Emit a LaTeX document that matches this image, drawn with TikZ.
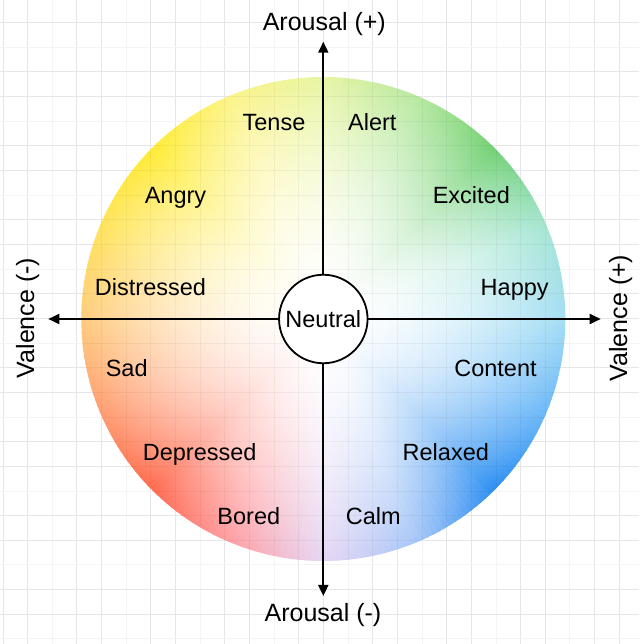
\documentclass[tikz,border=0pt]{standalone}
\usepackage{fontspec}
\setmainfont{Liberation Sans}
\usetikzlibrary{arrows.meta,fadings}
\definecolor{c0}{HTML}{A4DEF4}
\definecolor{c1}{HTML}{A6E6D4}
\definecolor{c2}{HTML}{72D174}
\definecolor{c3}{HTML}{B8E9A2}
\definecolor{c4}{HTML}{E8F5A4}
\definecolor{c5}{HTML}{FCF48A}
\definecolor{c6}{HTML}{FFEC34}
\definecolor{c7}{HTML}{FFE45C}
\definecolor{c8}{HTML}{FFCC7E}
\definecolor{c9}{HTML}{FF9E72}
\definecolor{c10}{HTML}{FF6A4E}
\definecolor{c11}{HTML}{FF9EA4}
\definecolor{c12}{HTML}{E6D6F4}
\definecolor{c13}{HTML}{A8C8F8}
\definecolor{c14}{HTML}{2A8EF2}
\definecolor{c15}{HTML}{6CB8F8}
\definecolor{gridc}{HTML}{E6E6E6}
\definecolor{gridf}{HTML}{F4F4F4}
\pgfdeclareradialshading{wfadeshade}{\pgfpointorigin}{color(0bp)=(white); color(2.5bp)=(black!1.6); color(5bp)=(black!5.5); color(7.5bp)=(black!11.5); color(10bp)=(black!19.2); color(12.5bp)=(black!28.7); color(15bp)=(black!39.9); color(17.5bp)=(black!52.6); color(20bp)=(black!66.9); color(22.5bp)=(black!82.7); color(25bp)=(black); color(50bp)=(black)}
\pgfdeclarefading{wfade}{\pgfuseshading{wfadeshade}}
\begin{document}
\begin{tikzpicture}[x=1pt,y=1pt,
  lbl/.style={font=\fontsize{23.5}{28}\selectfont, anchor=base, inner sep=0pt},
  axlbl/.style={font=\fontsize{25}{30}\selectfont, anchor=base, inner sep=0pt},
  axisarrow/.style={line width=1.8pt, -{Triangle[length=11pt,width=10pt]}},
  gridmain/.style={draw=gridc, line width=1pt},
  gridfaint/.style={draw=gridf, line width=1pt},
  neutral/.style={circle, draw, line width=1.8pt, fill=white, minimum size=88.5pt, inner sep=0pt,
    font=\fontsize{23.5}{28}\selectfont}]
\useasboundingbox (0,0) rectangle (639,644);
\fill[white] (0,0) rectangle (639,644);
% grid
\foreach \k in {0,...,25} {
  \pgfmathsetmacro\gx{3.0+24.65*\k}
  \pgfmathtruncatemacro\md{mod(\k,3)}
  \ifnum\md=2 \draw[gridfaint] (\gx,0) -- (\gx,644); \else \draw[gridmain] (\gx,0) -- (\gx,644); \fi
}
\foreach \k in {0,...,26} {
  \pgfmathsetmacro\gy{645.95-24.65*\k}
  \pgfmathtruncatemacro\md{mod(\k,3)}
  \ifnum\md=2 \draw[gridfaint] (0,\gy) -- (639,\gy); \else \draw[gridmain] (0,\gy) -- (639,\gy); \fi
}
% colour wheel
\coordinate (C) at (323.3,325);
\foreach \i/\ca/\cb in {0/c0/c1,1/c1/c2,2/c2/c3,3/c3/c4,4/c4/c5,5/c5/c6,6/c6/c7,7/c7/c8,
  8/c8/c9,9/c9/c10,10/c10/c11,11/c11/c12,12/c12/c13,13/c13/c14,14/c14/c15,15/c15/c0} {
  \foreach \j in {0,...,14} {
    \pgfmathsetmacro\ang{\i*22.5+\j*1.5}
    \pgfmathtruncatemacro\p{100-(\j+0.5)*100/15}
    \colorlet{wc}{\ca!\p!\cb}
    \fill[wc] (C) -- ++(\ang:242pt) arc[start angle=\ang, delta angle=1.8, radius=242pt] -- cycle;
  }
}
% white fade toward centre
\fill[white, path fading=wfade] (C) circle[radius=242pt];
% faint grid through the wheel
\begin{scope}
  \clip (C) circle[radius=242pt];
  \foreach \k in {0,...,25} {
    \pgfmathsetmacro\gx{3.0+24.65*\k}
    \draw[black, opacity=0.04, line width=1pt] (\gx,0) -- (\gx,644);
  }
  \foreach \k in {0,...,26} {
    \pgfmathsetmacro\gy{645.95-24.65*\k}
    \draw[black, opacity=0.04, line width=1pt] (0,\gy) -- (639,\gy);
  }
\end{scope}
% axes
\node[neutral] (N) at (323.3,325) {Neutral};
\coordinate (tT) at (323.3,602.3);
\coordinate (tB) at (323.3,48);
\coordinate (tL) at (48.3,325);
\coordinate (tR) at (600.7,325);
\draw[axisarrow] (N) -- (tT);
\draw[axisarrow] (N) -- (tB);
\draw[axisarrow] (N) -- (tL);
\draw[axisarrow] (N) -- (tR);
\node[axlbl] (aplus) at (324.3,613) {Arousal (+)};
\node[axlbl] (aminus) at (323,22) {Arousal (-)};
\node[axlbl, rotate=90] (vminus) at (34,326) {Valence (-)};
\node[axlbl, rotate=90] (vplus) at (627,326) {Valence (+)};
% emotion labels
\node[lbl] (tense) at (274,513.6) {Tense};
\node[lbl] (alert) at (372.3,513.6) {Alert};
\node[lbl] (angry) at (175.5,440.2) {Angry};
\node[lbl] (excited) at (471.3,440.2) {Excited};
\node[lbl] (distressed) at (150.5,348.7) {Distressed};
\node[lbl] (happy) at (514.7,348.7) {Happy};
\node[lbl] (sad) at (126.7,267) {Sad};
\node[lbl] (content) at (495.5,267) {Content};
\node[lbl] (depressed) at (199.7,183) {Depressed};
\node[lbl] (relaxed) at (445.8,183) {Relaxed};
\node[lbl] (bored) at (248.8,119.7) {Bored};
\node[lbl] (calm) at (373.3,119.7) {Calm};
\end{tikzpicture}
\end{document}
